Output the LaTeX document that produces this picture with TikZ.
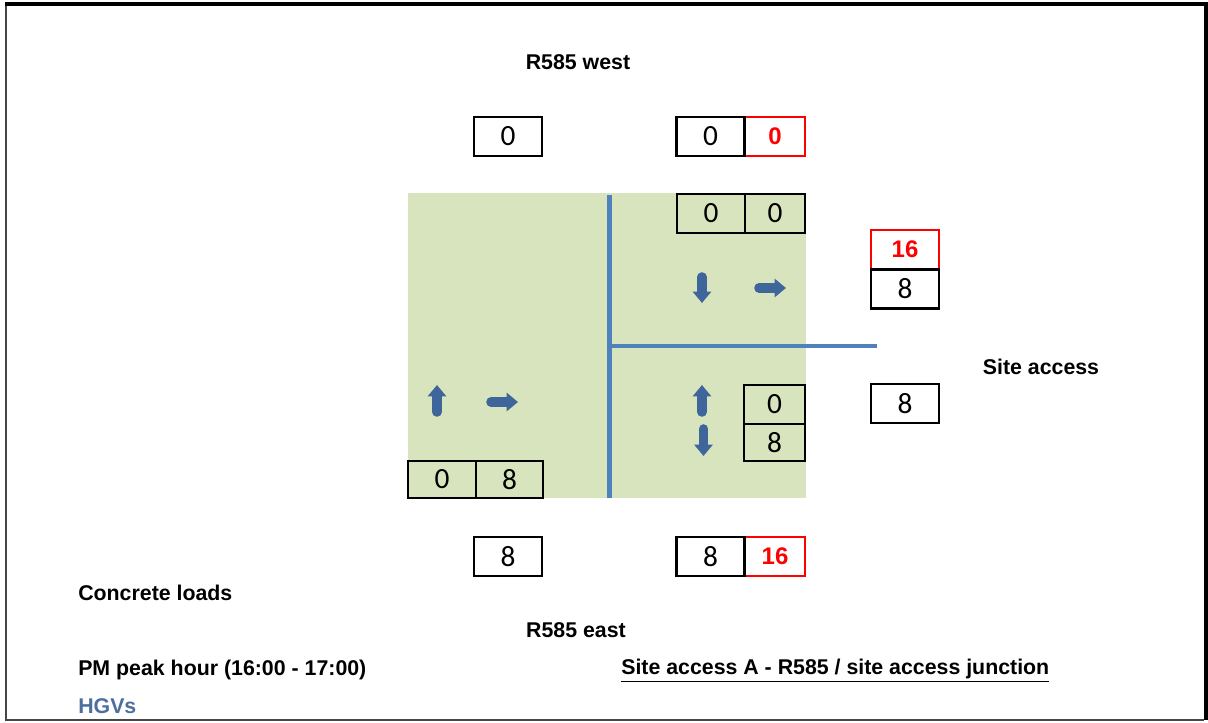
\documentclass[tikz,border=0pt]{standalone}
\usepackage{fontspec}
\setmainfont{Liberation Sans}
\newfontfamily\numfont{Carlito}
\usetikzlibrary{arrows.meta}
\definecolor{roadBlue}{RGB}{79,129,189}
\definecolor{arrowBlue}{RGB}{62,102,154}
\definecolor{padGreen}{RGB}{215,228,189}
\definecolor{frameGray}{RGB}{70,70,70}
\definecolor{hgvBlue}{RGB}{79,110,160}

\begin{document}
\begin{tikzpicture}[x=0.75pt, y=-0.75pt,
  flow/.style={draw=black, line width=2.2pt, minimum width=51pt,
               minimum height=29.25pt, inner sep=0pt,
               font=\numfont\fontsize{22}{22}\selectfont},
  flowin/.style={flow, line width=1.5pt},
  flowred/.style={flow, draw=red, text=red, minimum width=45pt,
                  font=\bfseries\fontsize{18}{18}\selectfont},
  label/.style={inner sep=0pt, font=\bfseries\fontsize{16}{19}\selectfont},
  move/.style={draw=arrowBlue, line width=7.2pt, line cap=round,
               -{Triangle[width=13.5pt,length=8.5pt]}},
]
  \useasboundingbox (0,0) rectangle (1208,723);

  % frame
  \draw[frameGray, line width=1.5pt] (6,4) -- (6,720) -- (1204,720);
  \draw[black, line width=3pt] (5,4.5) -- (1205.5,4.5) -- (1205.5,720);

  % junction area
  \fill[padGreen] (408,193) rectangle (806,498);
  \draw[roadBlue, line width=3.75pt] (609,195) -- (609,498);
  \draw[roadBlue, line width=3pt] (609,346) -- (877,346);

  % turning movements
  \draw[move] (702,277) -- (702,303);
  \draw[move] (759,288) -- (786,288);
  \draw[move] (437,412) -- (437,385);
  \draw[move] (491,402) -- (518,402);
  \draw[move] (702,412) -- (702,385);
  \draw[move] (703.5,429) -- (703.5,456);

  % R585 west arm
  \node[flow] (w1) at (508,136.5) {0};
  \node[flowred] (w3) at (775,136.5) {0};
  \node[flow] (w2) at (710.5,136.5) {0};
  \node[flowin] (g1) at (711,213.5) {0};
  \node[flowin, minimum width=45pt] (g2) at (775,213.5) {0};

  % site access arm
  \node[flowred, minimum width=51pt] (s1) at (905,249.5) {16};
  \node[flow] (s2) at (905,289) {8};
  \node[flow] (s3) at (905,403.5) {8};
  \node[flowin, minimum width=45.75pt] (g3) at (774.5,404.5) {0};
  \node[flowin, minimum width=45.75pt, minimum height=27.75pt] (g4) at (774.5,442.5) {8};

  % R585 east arm
  \node[flowin, minimum height=27.75pt] (g5) at (442,479.5) {0};
  \node[flowin, minimum height=27.75pt, minimum width=50.25pt] (g6) at (509.5,479.5) {8};
  \node[flow] (e1) at (508,556.5) {8};
  \node[flowred] (e3) at (775,556.5) {16};
  \node[flow] (e2) at (710.5,556.5) {8};

  % labels
  \node[label, anchor=base] (west) at (578,70) {R585 west};
  \node[label, anchor=base] (site) at (1041,375) {Site access};
  \node[label, anchor=base] (east) at (576,638) {R585 east};
  \node[label, anchor=base west] (loads) at (78,601) {Concrete loads};
  \node[label, anchor=base west] (peak) at (78,676) {PM peak hour (16:00 - 17:00)};
  \node[label, anchor=base west, text=hgvBlue] (hgv) at (78,714) {HGVs};
  \node[label, anchor=base west] (title) at (621,675) {\underline{Site access A - R585 / site access junction}};
\end{tikzpicture}
\end{document}
